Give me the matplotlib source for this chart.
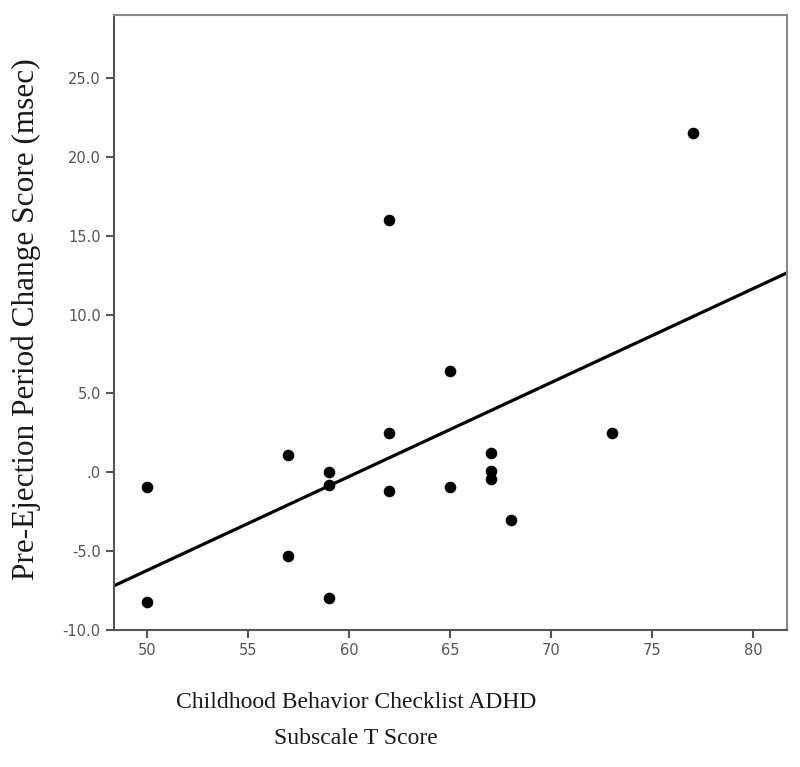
import numpy as np
import matplotlib
matplotlib.use('Agg')
import matplotlib.pyplot as plt
from matplotlib.ticker import FuncFormatter

# CBCL ADHD subscale T score vs PEP change score
cbcl_t = [50, 50, 57, 57, 59, 59, 59, 62, 62, 62, 65, 65, 67, 67, 67, 68, 73, 77]
pep_change = [-0.9, -8.2, 1.1, -5.3, 0.0, -0.8, -8.0, 2.5, -1.2, 16.0,
              -0.9, 6.4, 1.25, 0.1, -0.4, -3.0, 2.5, 21.5]

x_ticks = [50, 55, 60, 65, 70, 75, 80]
y_ticks = [-10, -5, 0, 5, 10, 15, 20, 25]

fig = plt.figure(figsize=(8, 7.67), dpi=100)
ax = fig.add_axes([0.1425, 0.1786, 0.8415, 0.8018])

ax.scatter(cbcl_t, pep_change, s=70, color='black', zorder=3, linewidths=0)

# fit line (least squares) drawn across the whole x range
xlim = (48.37, 81.68)
slope, intercept = np.polyfit(cbcl_t, pep_change, 1)
xs = np.array(xlim)
ax.plot(xs, slope * xs + intercept, color='black', lw=2.3, zorder=2)

ax.set_xlim(xlim)
ax.set_ylim(-10, 29)
ax.set_xticks(x_ticks)
ax.set_yticks(y_ticks)

def spss_fmt(v, pos):
    s = '%.1f' % v
    if s.startswith('0'):
        s = s[1:]
    return s

ax.yaxis.set_major_formatter(FuncFormatter(spss_fmt))
ax.tick_params(direction='out', length=6, width=1.5, color='#555555',
               labelcolor='#555555', labelsize=10.5)
for sp in ax.spines.values():
    sp.set_color('#555555')
    sp.set_linewidth(1.5)
for sp in ['top', 'right']:
    ax.spines[sp].set_color('#888888')

ax.set_xlabel('Childhood Behavior Checklist ADHD\nSubscale T Score',
              fontfamily='Liberation Serif', fontsize=17, color='#1a1a1a',
              linespacing=1.95)
ax.xaxis.set_label_coords(0.36, -0.1)
ax.set_ylabel('Pre-Ejection Period Change Score (msec)',
              fontfamily='Liberation Serif', fontsize=22.5, color='#1a1a1a')
ax.yaxis.set_label_coords(-0.108, 0.505)

fig.savefig('out.png', dpi=100)
